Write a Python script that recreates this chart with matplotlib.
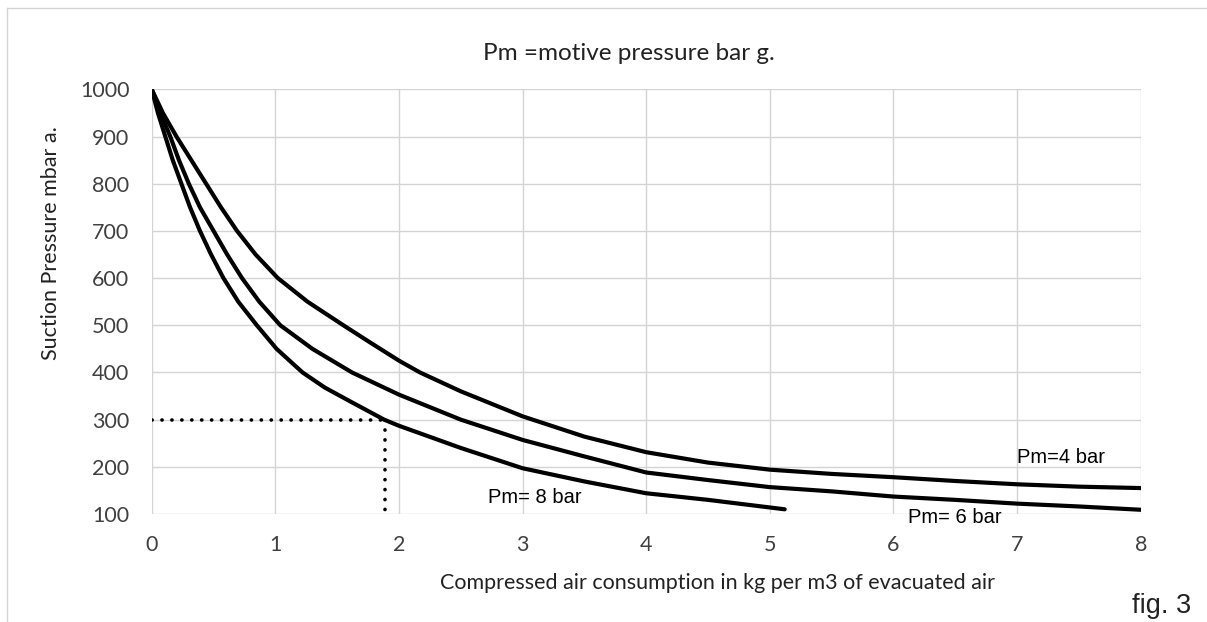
import matplotlib.pyplot as plt
from matplotlib.lines import Line2D

# values
x_4bar = [0, 0.09, 0.20, 0.32, 0.44, 0.56, 0.69, 0.84, 1.02, 1.26, 1.55, 1.77, 2.0, 2.17, 2.5,
          3.0, 3.5, 4.0, 4.5, 5.0, 5.5, 6.0, 6.5, 7.0, 7.5, 8.0]
y_4bar = [1000, 950, 900, 850, 800, 750, 700, 650, 600, 550, 500, 463, 425, 400, 360,
          307, 264, 231, 209, 194, 185, 178, 170, 163, 158, 155]

x_6bar = [0, 0.07, 0.15, 0.22, 0.30, 0.39, 0.50, 0.61, 0.73, 0.87, 1.04, 1.30, 1.62, 2.0, 2.5,
          3.0, 3.5, 4.0, 4.5, 5.0, 5.5, 6.0, 6.5, 7.0, 7.5, 8.0]
y_6bar = [1000, 950, 900, 850, 800, 750, 700, 650, 600, 550, 500, 450, 400, 353, 300,
          257, 222, 188, 172, 157, 148, 137, 130, 122, 116, 109]

x_8bar = [0, 0.05, 0.11, 0.17, 0.24, 0.31, 0.39, 0.48, 0.58, 0.70, 0.85, 1.01, 1.22, 1.40,
          1.61, 1.88, 2.0, 2.5, 3.0, 3.5, 4.0, 4.5, 5.12]
y_8bar = [1000, 950, 900, 850, 800, 750, 700, 650, 600, 550, 500, 450, 400, 368,
          338, 300, 287, 240, 197, 169, 144, 130, 110]

# example reading: 300 mbar a. at 8 bar
example_y = 300
example_x = 1.89

x_ticks = [0, 1, 2, 3, 4, 5, 6, 7, 8]
y_ticks = [100, 200, 300, 400, 500, 600, 700, 800, 900, 1000]

tick_font = 'Lato'
label_font = 'Liberation Sans'

fig = plt.figure(figsize=(12.07, 6.22), dpi=100)
ax = fig.add_axes([0.1257, 0.1736, 0.8194, 0.6828])

for xs, ys in [(x_4bar, y_4bar), (x_6bar, y_6bar), (x_8bar, y_8bar)]:
    ax.plot(xs, ys, color='black', lw=3, solid_capstyle='round', solid_joinstyle='round', zorder=3)

# dotted guide lines (round dots)
dots = dict(color='black', lw=2.6, ls=(0, (0.05, 2.7)), dash_capstyle='round', zorder=4)
ax.plot([0, example_x], [example_y, example_y], **dots)
ax.plot([example_x, example_x], [example_y, y_ticks[0]], **dots)

ax.set_xlim(0, 8)
ax.set_ylim(100, 1000)
ax.set_xticks(x_ticks)
ax.set_yticks(y_ticks)
ax.grid(True, color='#d4d4d4', lw=1)
ax.set_axisbelow(True)
for s in ax.spines.values():
    s.set_visible(False)
ax.tick_params(length=0, labelsize=15.5, colors='#404040')
ax.tick_params(axis='x', pad=15)
ax.tick_params(axis='y', pad=16)
for lab in ax.get_xticklabels() + ax.get_yticklabels():
    lab.set_fontfamily(tick_font)

# curve labels
ax.text(7.0, 220, 'Pm=4 bar', fontsize=14.5, family=label_font, va='center', ha='left')
ax.text(6.12, 93, 'Pm= 6 bar', fontsize=14.5, family=label_font, va='center', ha='left', clip_on=False)
ax.text(2.72, 135, 'Pm= 8 bar', fontsize=14.5, family=label_font, va='center', ha='left')

fig.text(629 / 1207, 1 - 54 / 622, 'Pm =motive pressure bar g.', fontsize=17.5,
         family=tick_font, ha='center', va='center', color='#222222')
fig.text(717 / 1207, 1 - 583 / 622, 'Compressed air consumption in kg per m3 of evacuated air',
         fontsize=15.5, family=tick_font, ha='center', va='center', color='#222222')
fig.text(51 / 1207, 1 - 243 / 622, 'Suction Pressure mbar a.', fontsize=15.5, family=tick_font,
         rotation=90, ha='center', va='center', color='#222222')
fig.text(1162 / 1207, 1 - 606 / 622, 'fig. 3', fontsize=19.5, family=label_font,
         ha='center', va='center', color='#222222')

# light outer frame (left and top edges)
fl, ft = 7 / 1207, 1 - 8 / 622
fig.add_artist(Line2D([fl, fl], [0, ft], color='#d4d4d4', lw=1, transform=fig.transFigure))
fig.add_artist(Line2D([fl, 1], [ft, ft], color='#d4d4d4', lw=1, transform=fig.transFigure))

fig.savefig('out.png', dpi=100)
